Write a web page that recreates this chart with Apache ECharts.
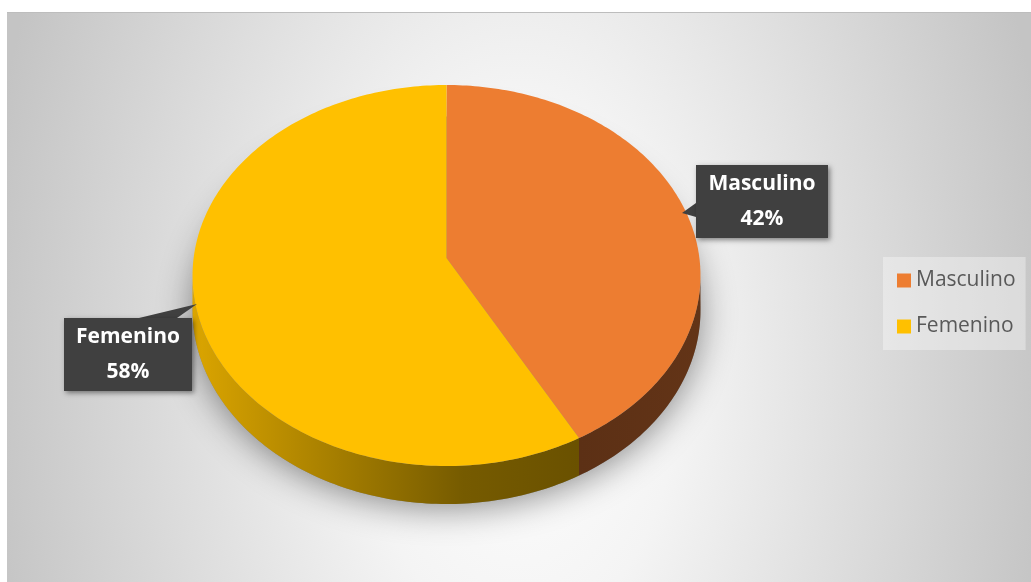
<!DOCTYPE html>
<html>
<head>
<meta charset="utf-8">
<title>Sexo</title>
<script src="https://cdn.jsdelivr.net/npm/echarts@6/dist/echarts.min.js"></script>
<style>
  html, body { margin: 0; padding: 0; background: #fff; }
  #chart {
    position: absolute; left: 7px; top: 12px; width: 1024px; height: 569px;
    border-top: 1px solid #bdbdbd;
    background: radial-gradient(ellipse 540px 900px at 50% 62%, #ffffff 0%, #f4f4f4 30%, #c4c4c4 100%);
  }
</style>
</head>
<body>
<div id="chart"></div>
<script>
const categories = ['Masculino', 'Femenino'];
const values = [42, 58];
const palette = ['#ED7D31', '#FFC000'];

// tilted disc seen in perspective: screen = centre + (a*u, B*v) / (1 + k*v)
// u, v are unit-circle coords (v = -1 at the back, +1 at the front)
const geo = { cx: 439.5, cy: 245, a: 252.9, B: 188.9, k: -0.0919, depth: 34.5 };
const total = values.reduce((s, v) => s + v, 0);

// where the callout boxes sit for each slice
const callouts = [
    { x: 689, y: 152, w: 132, h: 73, tip: [[689, 190], [689, 204], [675, 200]] },
    { x: 57, y: 305, w: 128, h: 73, tip: [[132, 305], [170, 305], [190, 291]] }
];

const sideFills = [
    new echarts.graphic.LinearGradient(0, 0, 1, 0, [
        { offset: 0, color: '#5c3015' },
        { offset: 1, color: '#633417' }
    ]),
    new echarts.graphic.LinearGradient(0, 0, 1, 0, [
        { offset: 0, color: '#dba500' },
        { offset: 0.35, color: '#a88000' },
        { offset: 0.7, color: '#765b00' },
        { offset: 1, color: '#6a5100' }
    ])
];

function pt(deg, down) {
    const r = deg * Math.PI / 180;
    const u = Math.sin(r), v = -Math.cos(r);
    const w = 1 + geo.k * v;
    return [geo.cx + geo.a * u / w, geo.cy + (geo.B * v + (down ? geo.depth : 0)) / w];
}

function arc(a, b, down) {
    const pts = [];
    const n = Math.max(2, Math.ceil(Math.abs(b - a)));
    for (let i = 0; i <= n; i++) pts.push(pt(a + (b - a) * i / n, down));
    return pts;
}

// silhouette angles of the disc rim
const rimFrom = Math.acos(geo.k) * 180 / Math.PI;
const rimTo = 360 - rimFrom;

function buildSlice(idx, value) {
    let before = 0;
    for (let k = 0; k < idx; k++) before += values[k];
    const a = before / total * 360;
    const b = (before + value) / total * 360;
    const children = [];

    if (idx === 0) {
        // soft shadow under the whole pie
        children.push({
            type: 'polygon', z2: 0,
            shape: { points: arc(0, 360, true) },
            style: { fill: '#888', shadowBlur: 35, shadowOffsetY: 4, shadowColor: 'rgba(0,0,0,0.45)' }
        });
    }

    // side wall, only the front part is visible
    const sa = Math.max(a, rimFrom), sb = Math.min(b, rimTo);
    if (sb > sa) {
        const top = arc(sa, sb, false);
        const bottom = arc(sb, sa, true);
        children.push({
            type: 'polygon', z2: 2,
            shape: { points: top.concat(bottom) },
            style: { fill: sideFills[idx] }
        });
    }

    // top face
    children.push({
        type: 'polygon', z2: 5,
        shape: { points: [[geo.cx, geo.cy]].concat(arc(a, b, false)) },
        style: { fill: palette[idx] }
    });

    // callout
    const c = callouts[idx];
    children.push({
        type: 'polygon', z2: 8,
        shape: { points: c.tip },
        style: { fill: '#404040' }
    });
    children.push({
        type: 'rect', z2: 9,
        shape: { x: c.x, y: c.y, width: c.w, height: c.h },
        style: {
            fill: '#404040', shadowBlur: 5, shadowOffsetX: 2, shadowOffsetY: 2,
            shadowColor: 'rgba(0,0,0,0.45)'
        }
    });
    children.push({
        type: 'text', z2: 10,
        style: {
            text: categories[idx] + '\n' + Math.round(value / total * 100) + '%',
            x: c.x + c.w / 2, y: c.y + c.h / 2,
            fill: '#ffffff', fontFamily: 'Open Sans', fontWeight: 'bold', fontSize: 21,
            lineHeight: 35, align: 'center', verticalAlign: 'middle'
        }
    });

    return { type: 'group', children };
}

const chart = echarts.init(document.getElementById('chart'));
chart.setOption({
    animation: false,
    backgroundColor: 'transparent',
    legend: {
        orient: 'vertical',
        left: 876,
        top: 244,
        padding: [13, 10, 13, 14],
        itemWidth: 14,
        itemHeight: 14,
        itemGap: 25,
        icon: 'rect',
        backgroundColor: 'rgba(255,255,255,0.35)',
        textStyle: { fontFamily: 'Open Sans', fontSize: 21, lineHeight: 20, color: '#595959' },
        data: categories
    },
    series: categories.map((name, i) => ({
        type: 'custom',
        name: name,
        coordinateSystem: 'none',
        itemStyle: { color: palette[i] },
        data: [values[i]],
        renderItem: (params, api) => buildSlice(i, api.value(0))
    }))
});
</script>
</body>
</html>
